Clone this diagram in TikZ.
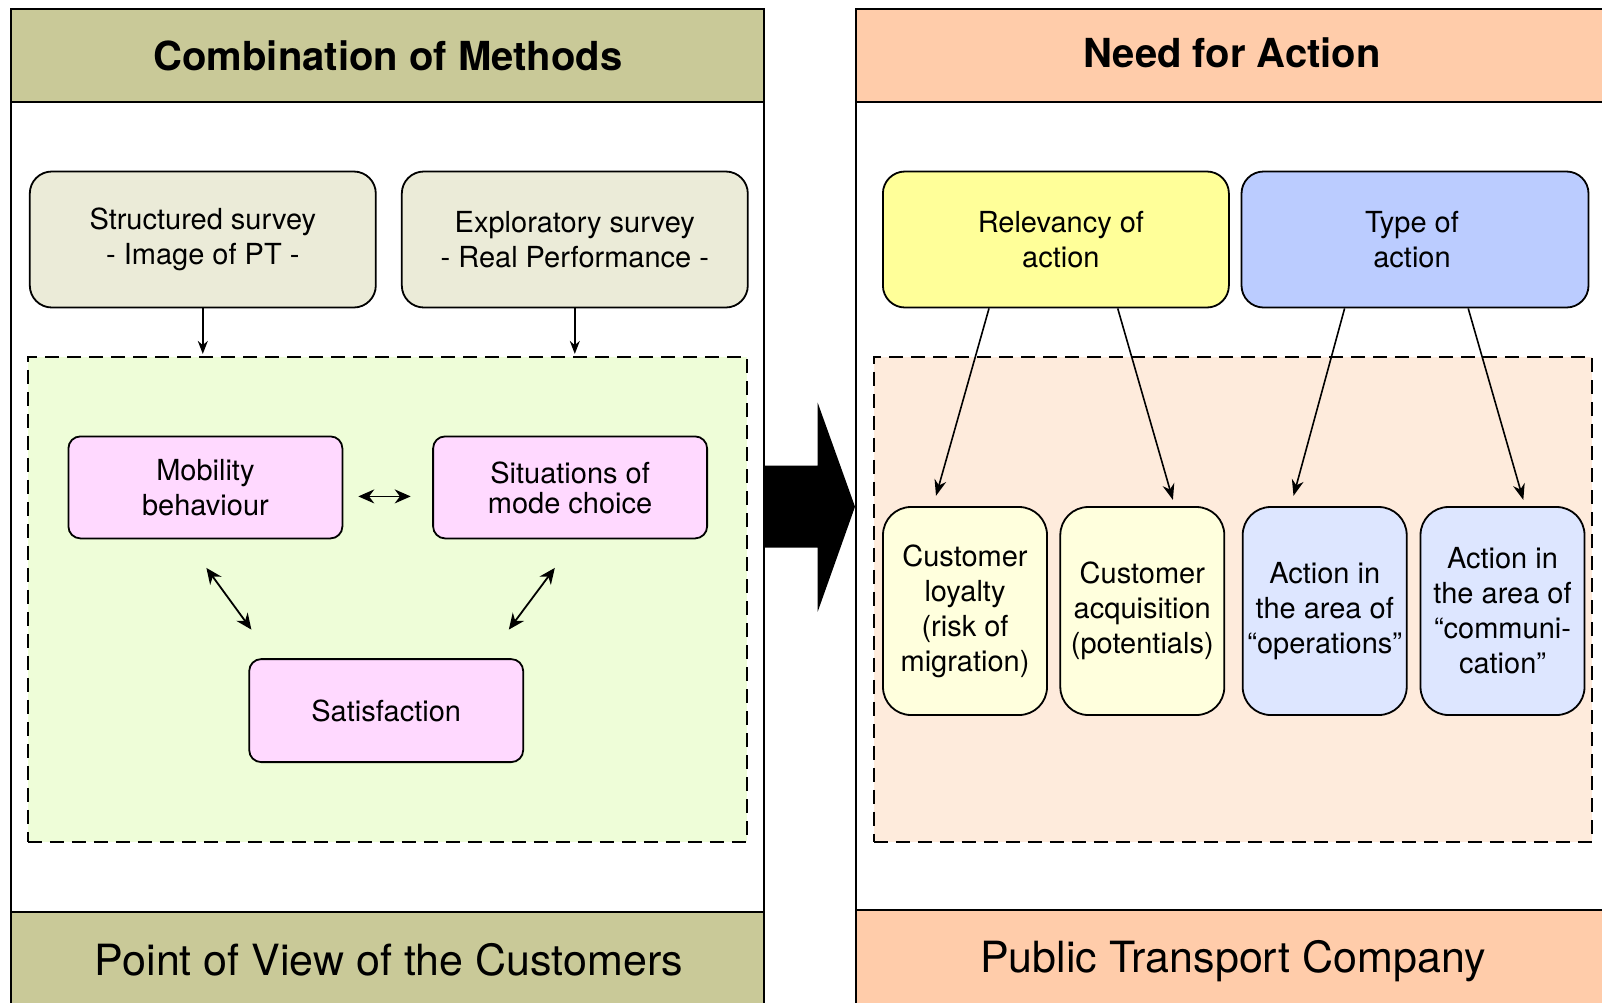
\documentclass[tikz,border=0pt]{standalone}
\usepackage{fontspec}
\setmainfont{TeX Gyre Heros}
\usetikzlibrary{arrows.meta}
\definecolor{hdrL}{RGB}{201,201,152}
\definecolor{hdrR}{RGB}{255,204,170}
\definecolor{survfill}{RGB}{235,235,216}
\definecolor{greenbg}{RGB}{238,253,216}
\definecolor{pinkfill}{RGB}{255,217,255}
\definecolor{yelfill}{RGB}{255,255,153}
\definecolor{bluefill}{RGB}{187,204,255}
\definecolor{peachbg}{RGB}{254,235,220}
\definecolor{ltyel}{RGB}{255,255,221}
\definecolor{ltblue}{RGB}{221,230,255}
\newcommand\bxfont{\fontsize{29}{35}\selectfont}
\begin{document}
\begin{tikzpicture}[x=1pt,y=-1pt,
  panel/.style={draw, line width=2pt},
  titletext/.style={font=\fontsize{40}{48}\selectfont\bfseries, inner sep=0},
  foottext/.style={font=\fontsize{43}{50}\selectfont, inner sep=0},
  bigbox/.style={draw, line width=1.8pt, rounded corners=22pt, align=center, inner sep=0,
    font=\bxfont, minimum width=346pt, minimum height=136pt},
  pinkbox/.style={draw, line width=1.8pt, rounded corners=12pt, align=center, inner sep=0,
    font=\bxfont, fill=pinkfill, minimum width=274pt, minimum height=102pt},
  smallbox/.style={draw, line width=1.8pt, rounded corners=28pt, align=center, inner sep=0,
    font=\bxfont, minimum width=164pt, minimum height=208pt},
  dashbox/.style={draw, line width=1.8pt, dash pattern=on 14pt off 8pt, inner sep=0,
    minimum width=719pt, minimum height=485pt},
  downarr/.style={line width=1.6pt, -{Stealth[length=13pt,width=10pt]}},
  dblarr/.style={line width=1.8pt, {Stealth[length=16pt,width=14pt]}-{Stealth[length=16pt,width=14pt]}},
  actarr/.style={line width=1.6pt, -{Stealth[length=16pt,width=12pt]}}
]
\useasboundingbox (0,0) rectangle (1602,1002);
\clip (0,0) rectangle (1602,1002);
\fill[white] (0,0) rectangle (1602,1002);

% ---------- left panel ----------
\draw[panel] (11.2,9.2) rectangle (764.2,1012);
\draw[panel, fill=hdrL] (11.2,9.2) rectangle (764.2,102.2);
\draw[panel, fill=hdrL] (11.2,911.7) rectangle (764.2,1012);
\node[titletext] (tL) at (388,56) {Combination of Methods};
\node[foottext] (fL) at (389,960) {Point of View of the Customers};

\node[bigbox, fill=survfill] (s1) at (202.8,239.5) {Structured survey\\- Image of PT -};
\node[bigbox, fill=survfill] (s2) at (574.8,239.5) {Exploratory survey\\- Real Performance -};

\node[dashbox, fill=greenbg] (green) at (387.3,599.3) {};

\draw[downarr] (s1.south) -- ([yshift=2pt]s1.south |- green.north);
\draw[downarr] (s2.south) -- ([yshift=2pt]s2.south |- green.north);

\node[pinkbox] (mob) at (205.4,487.4) {Mobility\\behaviour};
\node[pinkbox, font=\fontsize{29}{30}\selectfont] (sit) at (570.1,487.4) {Situations of\\mode choice};
\node[pinkbox, minimum height=103pt] (sat) at (386.2,710.6) {Satisfaction};

\draw[dblarr] ([xshift=15pt,yshift=-9pt]mob.east) -- ([xshift=-21.5pt,yshift=-9pt]sit.west);
\draw[dblarr] ([xshift=1pt,yshift=-28.6pt]mob.south) -- ([xshift=3.1pt,yshift=28.6pt]sat.north west);
\draw[dblarr] ([xshift=-15.3pt,yshift=-28.6pt]sit.south) -- ([xshift=-15.3pt,yshift=28.6pt]sat.north east);

% ---------- big arrow ----------
\fill[black] (764,465.7) -- (817.7,465.7) -- (817.7,402.7) -- (855,506.7)
  -- (817.7,611.7) -- (817.7,547.7) -- (764,547.7) -- cycle;

% ---------- right panel ----------
\draw[panel] (856.2,9.2) rectangle (1640,1012);
\draw[panel, fill=hdrR] (856.2,9.2) rectangle (1640,102.2);
\draw[panel, fill=hdrR] (856.2,910) rectangle (1640,1012);
\node[titletext] (tR) at (1232,53) {Need for Action};
\node[foottext] (fR) at (1233,961) {Public Transport Company};

\node[bigbox, fill=yelfill] (rel) at (1055.9,239.5) {\hspace*{10pt}Relevancy of\\\hspace*{10pt}action};
\node[bigbox, fill=bluefill, minimum width=347pt] (typ) at (1415,239.5) {Type of\hspace*{6pt}\\action\hspace*{6pt}};

\node[dashbox, fill=peachbg, minimum width=718pt] (peach) at (1232.8,599.3) {};

\node[smallbox, fill=ltyel] (c1) at (965,611) {Customer\\loyalty\\(risk of\\migration)};
\node[smallbox, fill=ltyel] (c2) at (1142.3,611) {Customer\\acquisition\\(potentials)};
\node[smallbox, fill=ltblue] (c3) at (1324.7,611) {Action in\\the area of\\“operations”};
\node[smallbox, fill=ltblue] (c4) at (1502.5,611) {Action in\\the area of\\“communi-\\cation”};

\draw[actarr] ([xshift=-66.9pt]rel.south) -- ([xshift=-29pt,yshift=10.3pt]c1.north);
\draw[actarr] ([xshift=61.8pt]rel.south) -- ([xshift=30.6pt,yshift=6.2pt]c2.north);
\draw[actarr] ([xshift=-70.4pt]typ.south) -- ([xshift=-31.2pt,yshift=10.3pt]c3.north);
\draw[actarr] ([xshift=53.2pt]typ.south) -- ([xshift=20.8pt,yshift=6.2pt]c4.north);
\end{tikzpicture}
\end{document}
